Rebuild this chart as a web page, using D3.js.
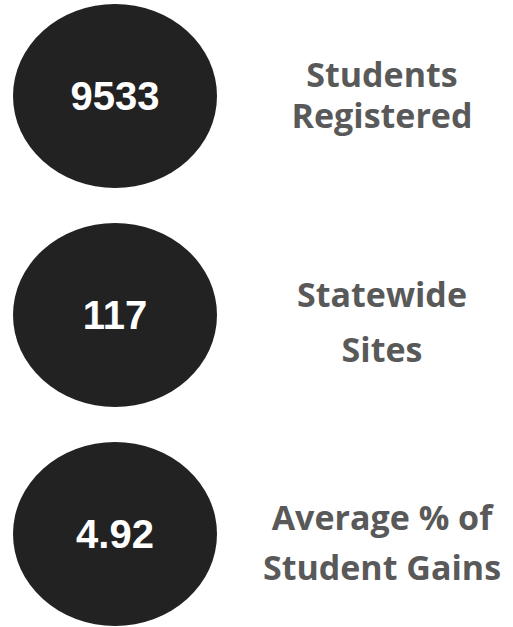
<!DOCTYPE html>
<html lang="en">
<head>
    <meta charset="UTF-8">
    <title>Program Stats</title>
    <script src="https://d3js.org/d3.v7.min.js"></script>
    <style>
        body {
            margin: 0;
            background: #fff;
        }
        .stat-value {
            font-family: "Liberation Sans", Arial, sans-serif;
            font-weight: bold;
            fill: #fff;
        }
        .stat-label {
            font-family: "Open Sans", sans-serif;
            font-weight: 700;
            fill: #595959;
        }
    </style>
</head>
<body>
    <svg id="chart"></svg>

    <script>
        // values shown inside the circles
        var statValues = ["9533", "117", "4.92"];
        // labels next to each circle, one entry per line
        var statLabels = [
            ["Students", "Registered"],
            ["Statewide", "Sites"],
            ["Average % of", "Student Gains"]
        ];

        var width = 513,
            height = 627;

        var svg = d3.select("#chart")
            .attr("width", width)
            .attr("height", height);

        // vertical placement of each stat row
        var y = d3.scalePoint()
            .domain(d3.range(statValues.length))
            .range([96, 534]);

        var circleX = 115,
            labelX = 382;

        var rows = svg.selectAll(".stat")
            .data(statValues)
            .enter().append("g")
            .attr("class", "stat")
            .attr("transform", function(d, i) { return "translate(0," + y(i) + ")"; });

        rows.append("ellipse")
            .attr("cx", circleX)
            .attr("cy", 0)
            .attr("rx", 102)
            .attr("ry", 92)
            .attr("fill", "#222222");

        rows.append("text")
            .attr("class", "stat-value")
            .attr("x", circleX)
            .attr("y", 14)
            .attr("text-anchor", "middle")
            .style("font-size", "40px")
            .text(function(d) { return d; });

        // first baseline and line gap per row (the source boxes are not spaced evenly)
        var labelTop = [-9, -8, -4],
            labelGap = [41, 55, 50];

        rows.append("text")
            .attr("class", "stat-label")
            .attr("text-anchor", "middle")
            .style("font-size", "34px")
            .each(function(d, i) {
                var t = d3.select(this);
                statLabels[i].forEach(function(line, j) {
                    t.append("tspan")
                        .attr("x", labelX)
                        .attr("y", labelTop[i] + j * labelGap[i])
                        .text(line);
                });
            });
    </script>
</body>
</html>
